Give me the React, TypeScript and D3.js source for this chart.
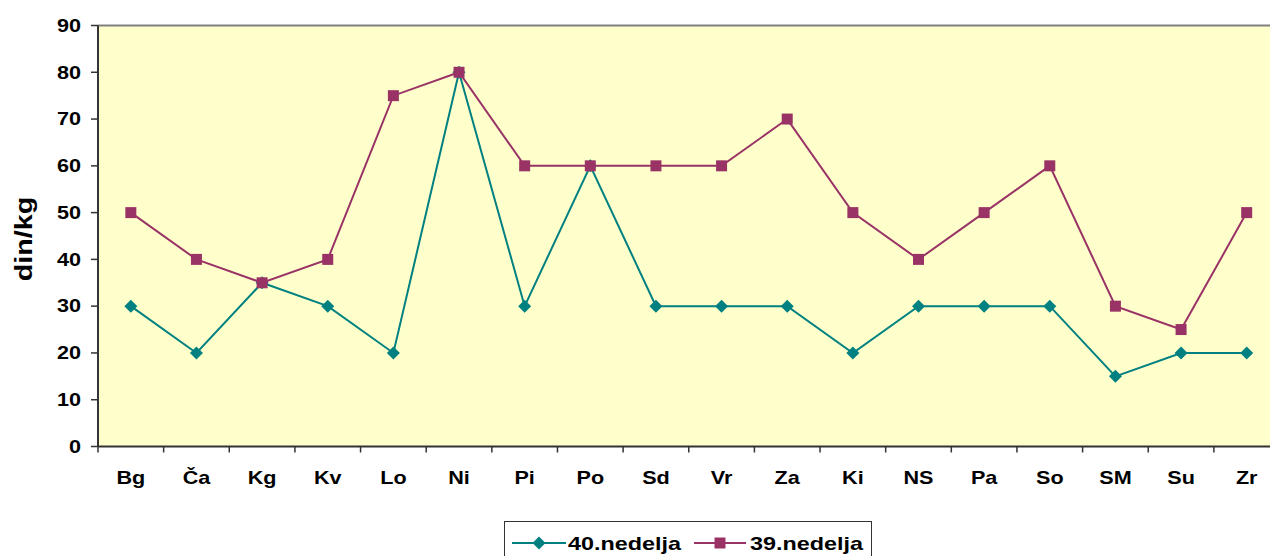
import React from 'react';
import * as d3 from 'd3';

const categories = ['Bg', 'Ča', 'Kg', 'Kv', 'Lo', 'Ni', 'Pi', 'Po', 'Sd', 'Vr', 'Za', 'Ki', 'NS', 'Pa', 'So', 'SM', 'Su', 'Zr'];
const week40 = [30, 20, 35, 30, 20, 80, 30, 60, 30, 30, 30, 20, 30, 30, 30, 15, 20, 20];
const week39 = [50, 40, 35, 40, 75, 80, 60, 60, 60, 60, 70, 50, 40, 50, 60, 30, 25, 50];
const yTicks = [0, 10, 20, 30, 40, 50, 60, 70, 80, 90];

const TEAL = '#008080';
const PLUM = '#993366';
const FONT = 'Liberation Sans, Arial, sans-serif';

// text slightly stretched horizontally, like the original picture
const Label = ({ x, y, anchor = 'start', size, sx = 1.2, children }: any) => (
  <text transform={`translate(${x},${y}) scale(${sx},1)`} dy="0.35em" textAnchor={anchor}
    fontSize={size} fontWeight="bold">{children}</text>
);

const App = () => {
  const width = 1270;
  const height = 556;
  const left = 98;
  const top = 25.5;
  const bottom = 446.5;
  const right = left + 18 * 65.64;

  const x = d3.scaleBand<string>().domain(categories).range([left, right]);
  const y = d3.scaleLinear().domain([0, 90]).range([bottom, top]);
  const cx = (c: string) => (x(c) ?? 0) + x.bandwidth() / 2;

  const line = d3.line<number>()
    .x((_, i) => cx(categories[i]))
    .y(d => y(d));

  const diamond = (px: number, py: number, r = 6.5) =>
    `M${px},${py - r}L${px + r},${py}L${px},${py + r}L${px - r},${py}Z`;

  return (
    <svg width={width} height={height} style={{ position: 'absolute', left: 0, top: 0 }} fontFamily={FONT}>
      <rect x={left} y={top} width={right - left} height={bottom - top} fill="#FFFFCC" />
      <line x1={left} x2={right} y1={top} y2={top} stroke="#808080" strokeWidth={2} />
      <line x1={left} x2={left} y1={top} y2={bottom} stroke="#333" strokeWidth={2} />
      <line x1={left} x2={right} y1={bottom} y2={bottom} stroke="#333" strokeWidth={2} />

      {yTicks.map(t => (
        <g key={t}>
          <line x1={left - 7} x2={left} y1={y(t)} y2={y(t)} stroke="#333" strokeWidth={1.5} />
          <Label x={left - 17} y={y(t)} anchor="end" size={18}>{t}</Label>
        </g>
      ))}

      {categories.map(c => (
        <g key={c}>
          <line x1={(x(c) ?? 0)} x2={(x(c) ?? 0)} y1={bottom} y2={bottom + 6} stroke="#333" strokeWidth={1.5} />
          <Label x={cx(c)} y={478} anchor="middle" size={18}>{c}</Label>
        </g>
      ))}

      <text transform={`translate(24,239) rotate(-90) scale(1.25,1)`} dy="0.35em" textAnchor="middle"
        fontSize={23} fontWeight="bold">din/kg</text>

      <path d={line(week40) ?? ''} fill="none" stroke={TEAL} strokeWidth={2} />
      {week40.map((v, i) => (
        <path key={i} d={diamond(cx(categories[i]), y(v))} fill={TEAL} />
      ))}

      <path d={line(week39) ?? ''} fill="none" stroke={PLUM} strokeWidth={2} />
      {week39.map((v, i) => (
        <rect key={i} x={cx(categories[i]) - 5.5} y={y(v) - 5.5} width={11} height={11} fill={PLUM} />
      ))}

      <g>
        <rect x={504.5} y={521.5} width={367} height={40} fill="#fff" stroke="#333" strokeWidth={1} />
        <line x1={512} x2={566} y1={543} y2={543} stroke={TEAL} strokeWidth={2} />
        <path d={diamond(539, 543)} fill={TEAL} />
        <Label x={568} y={543} size={19} sx={1.23}>40.nedelja</Label>
        <line x1={694} x2={746} y1={543} y2={543} stroke={PLUM} strokeWidth={2} />
        <rect x={714.5} y={537.5} width={11} height={11} fill={PLUM} />
        <Label x={750} y={543} size={19} sx={1.23}>39.nedelja</Label>
      </g>
    </svg>
  );
};

export default App;
